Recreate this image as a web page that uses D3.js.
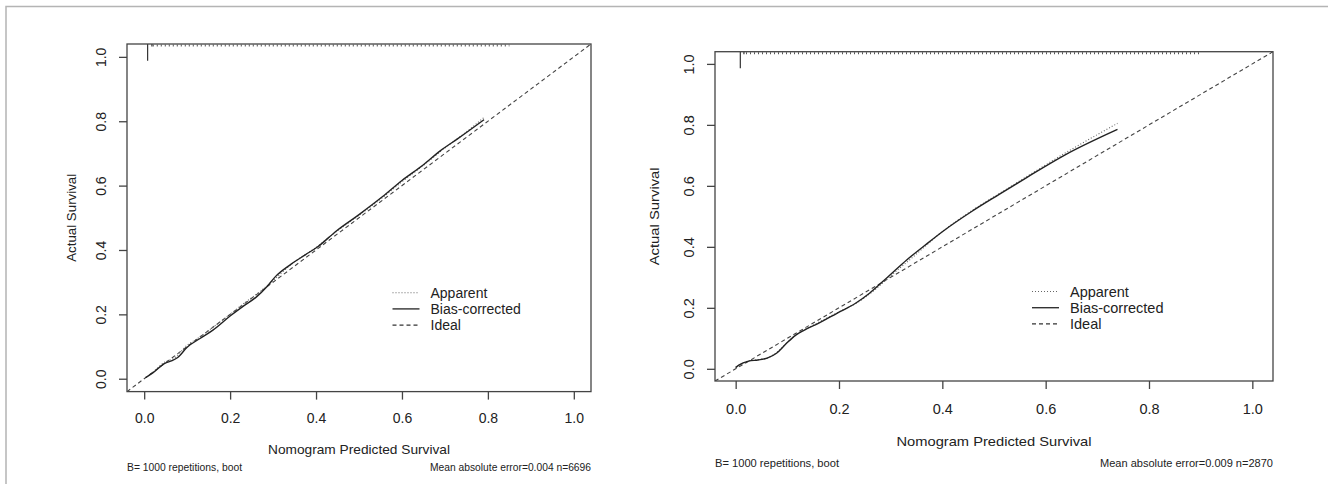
<!DOCTYPE html>
<html>
<head>
<meta charset="utf-8">
<script src="https://cdn.jsdelivr.net/npm/d3@7"></script>
<style>
  body { margin: 0; background: #fff; }
  svg text { font-family: "Liberation Sans", Arial, sans-serif; fill: #222; }
</style>
</head>
<body>
<div id="chart"></div>
<script>
// ticks shared by both panels
var xTicks = [0, 0.2, 0.4, 0.6, 0.8, 1.0];
var yTicks = [0, 0.2, 0.4, 0.6, 0.8, 1.0];
var legendLabels = ["Apparent", "Bias-corrected", "Ideal"];

// left panel (n=6696)
var leftApparent = [[0.003,0.004],[0.02,0.02],[0.048,0.052],[0.07,0.064],[0.1,0.104],[0.13,0.13],[0.16,0.16],[0.2,0.2],[0.23,0.232],[0.262,0.263],[0.3,0.305],[0.342,0.355],[0.404,0.412],[0.448,0.458],[0.5,0.508],[0.555,0.563],[0.6,0.612],[0.65,0.663],[0.7,0.717],[0.75,0.767],[0.791,0.812]];
var leftBias = [[0.003,0.003],[0.02,0.018],[0.048,0.048],[0.065,0.056],[0.078,0.066],[0.1,0.098],[0.13,0.125],[0.16,0.151],[0.2,0.195],[0.23,0.225],[0.262,0.255],[0.285,0.285],[0.306,0.318],[0.342,0.356],[0.375,0.385],[0.404,0.41],[0.448,0.46],[0.5,0.51],[0.555,0.566],[0.6,0.616],[0.65,0.665],[0.689,0.708],[0.73,0.746],[0.791,0.805]];
var leftSpikes = [[0.008,0.052],[0.018,0.008]];
var leftRug = [0.02, 0.85];
var leftNotes = ["B= 1000 repetitions, boot", "Mean absolute error=0.004 n=6696"];

// right panel (n=2870)
var rightApparent = [[0.0,0.005],[0.01,0.015],[0.025,0.026],[0.045,0.03],[0.065,0.038],[0.085,0.062],[0.105,0.095],[0.125,0.12],[0.15,0.143],[0.2,0.187],[0.24,0.222],[0.27,0.26],[0.3,0.305],[0.34,0.362],[0.4,0.45],[0.46,0.522],[0.52,0.585],[0.58,0.648],[0.64,0.71],[0.7,0.768],[0.739,0.805]];
var rightBias = [[0.0,0.004],[0.007,0.013],[0.025,0.025],[0.043,0.029],[0.061,0.035],[0.079,0.051],[0.097,0.081],[0.115,0.109],[0.133,0.127],[0.16,0.149],[0.196,0.182],[0.232,0.215],[0.259,0.248],[0.295,0.302],[0.331,0.357],[0.367,0.406],[0.402,0.452],[0.456,0.515],[0.51,0.572],[0.564,0.628],[0.636,0.7],[0.739,0.785]];
var rightSpikes = [[0.009,0.054],[0.016,0.008]];
var rightRug = [0.02, 0.9];
var rightNotes = ["B= 1000 repetitions, boot", "Mean absolute error=0.009 n=2870"];

var W = 1328, H = 484;
var domain = [-0.04, 1.04];

var svg = d3.select("#chart").append("svg")
  .attr("width", W).attr("height", H);

// outer frame (top + left only)
svg.append("path")
  .attr("d", "M6,484 L6,6.5 L1328,6.5")
  .attr("fill", "none").attr("stroke", "#b4b4b4").attr("stroke-width", 1.5);

function drawPanel(id, box, lay, apparent, bias, spikes, rug, notes) {
  var x = d3.scaleLinear().domain(domain).range([box.left, box.right]);
  var y = d3.scaleLinear().domain(domain).range([box.bottom, box.top]);
  var g = svg.append("g");

  g.append("clipPath").attr("id", id)
    .append("rect")
    .attr("x", box.left).attr("y", box.top)
    .attr("width", box.right - box.left).attr("height", box.bottom - box.top);

  // axes
  var xa = g.append("g").attr("transform", "translate(0," + box.bottom + ")")
    .call(d3.axisBottom(x).tickValues(xTicks).tickSize(8).tickFormat(d3.format(".1f")));
  xa.select(".domain").remove();
  xa.selectAll("line").attr("stroke", "#444").attr("stroke-width", 1.3);
  xa.selectAll("text").attr("y", lay.xLabY).attr("dy", null)
    .attr("font-size", lay.fs).attr("fill", "#222");

  var ya = g.append("g").attr("transform", "translate(" + box.left + ",0)")
    .call(d3.axisLeft(y).tickValues(yTicks).tickSize(8).tickFormat(d3.format(".1f")));
  ya.select(".domain").remove();
  ya.selectAll("line").attr("stroke", "#444").attr("stroke-width", 1.3);
  ya.selectAll("text")
    .attr("transform", "rotate(-90)")
    .attr("x", 0).attr("y", -21).attr("dy", null)
    .attr("text-anchor", "middle")
    .attr("font-size", lay.fs).attr("fill", "#222");

  // ideal
  g.append("line")
    .attr("clip-path", "url(#" + id + ")")
    .attr("x1", x(domain[0])).attr("y1", y(domain[0]))
    .attr("x2", x(domain[1])).attr("y2", y(domain[1]))
    .attr("stroke", "#444").attr("stroke-width", 1.1)
    .attr("stroke-dasharray", "4,3");

  var line = d3.line()
    .x(function (d) { return x(d[0]); })
    .y(function (d) { return y(d[1]); })
    .curve(d3.curveMonotoneX);

  g.append("path").datum(apparent)
    .attr("d", line).attr("fill", "none")
    .attr("stroke", "#666").attr("stroke-width", 1.1)
    .attr("stroke-dasharray", "1,2");

  g.append("path").datum(bias)
    .attr("d", line).attr("fill", "none")
    .attr("stroke", "#222").attr("stroke-width", 1.4);

  // distribution of predictions along the top
  g.selectAll(".spike").data(spikes).enter().append("line")
    .attr("x1", function (d) { return x(d[0]); })
    .attr("x2", function (d) { return x(d[0]); })
    .attr("y1", y(domain[1]))
    .attr("y2", function (d) { return y(domain[1] - d[1]); })
    .attr("stroke", "#333").attr("stroke-width", 1.2);

  g.append("line")
    .attr("x1", x(rug[0])).attr("x2", x(rug[1]))
    .attr("y1", box.top + 1.5).attr("y2", box.top + 1.5)
    .attr("stroke", "#555").attr("stroke-width", 2)
    .attr("stroke-dasharray", "1,3");

  // box
  g.append("rect")
    .attr("x", box.left).attr("y", box.top)
    .attr("width", box.right - box.left).attr("height", box.bottom - box.top)
    .attr("fill", "none").attr("stroke", "#444").attr("stroke-width", 1.3);

  // titles
  g.append("text")
    .attr("x", (box.left + box.right) / 2).attr("y", lay.xTitleY)
    .attr("text-anchor", "middle").attr("font-size", 13)
    .attr("textLength", lay.xTitleLen).attr("lengthAdjust", "spacingAndGlyphs")
    .text("Nomogram Predicted Survival");

  g.append("text")
    .attr("transform", "translate(" + lay.yTitleX + "," + (box.top + box.bottom) / 2 + ") rotate(-90)")
    .attr("text-anchor", "middle").attr("font-size", 13)
    .attr("textLength", lay.yTitleLen).attr("lengthAdjust", "spacingAndGlyphs")
    .text("Actual Survival");

  // footnotes
  g.append("text")
    .attr("x", box.left).attr("y", lay.noteY)
    .attr("font-size", 10.5)
    .attr("textLength", lay.noteLen[0]).attr("lengthAdjust", "spacingAndGlyphs")
    .text(notes[0]);
  g.append("text")
    .attr("x", box.right).attr("y", lay.noteY)
    .attr("text-anchor", "end").attr("font-size", 10.5)
    .attr("textLength", lay.noteLen[1]).attr("lengthAdjust", "spacingAndGlyphs")
    .text(notes[1]);

  // legend
  var dashes = ["1,2", null, "4,3"];
  var lg = g.append("g");
  legendLabels.forEach(function (lab, i) {
    var ly = lay.legY + i * 16.2;
    lg.append("line")
      .attr("x1", lay.legX).attr("x2", lay.legX + 27)
      .attr("y1", ly).attr("y2", ly)
      .attr("stroke", i === 0 ? "#666" : "#333").attr("stroke-width", i === 1 ? 1.4 : 1.1)
      .attr("stroke-dasharray", dashes[i]);
    lg.append("text")
      .attr("x", lay.legX + 38).attr("y", ly + 5)
      .attr("font-size", lay.fs)
      .text(lab);
  });
}

drawPanel("clipL",
  {left: 127, right: 591, top: 44, bottom: 391.6},
  {fs: 14, xLabY: 31.5, xTitleY: 453.5, xTitleLen: 182, yTitleX: 75.5, yTitleLen: 88,
   noteY: 470.5, noteLen: [115, 161], legX: 392.5, legY: 292.7},
  leftApparent, leftBias, leftSpikes, leftRug, leftNotes);

drawPanel("clipR",
  {left: 715, right: 1273, top: 51.7, bottom: 381},
  {fs: 14.5, xLabY: 33.3, xTitleY: 446, xTitleLen: 195, yTitleX: 659, yTitleLen: 98,
   noteY: 467, noteLen: [124, 173], legX: 1032, legY: 291.5},
  rightApparent, rightBias, rightSpikes, rightRug, rightNotes);
</script>
</body>
</html>
